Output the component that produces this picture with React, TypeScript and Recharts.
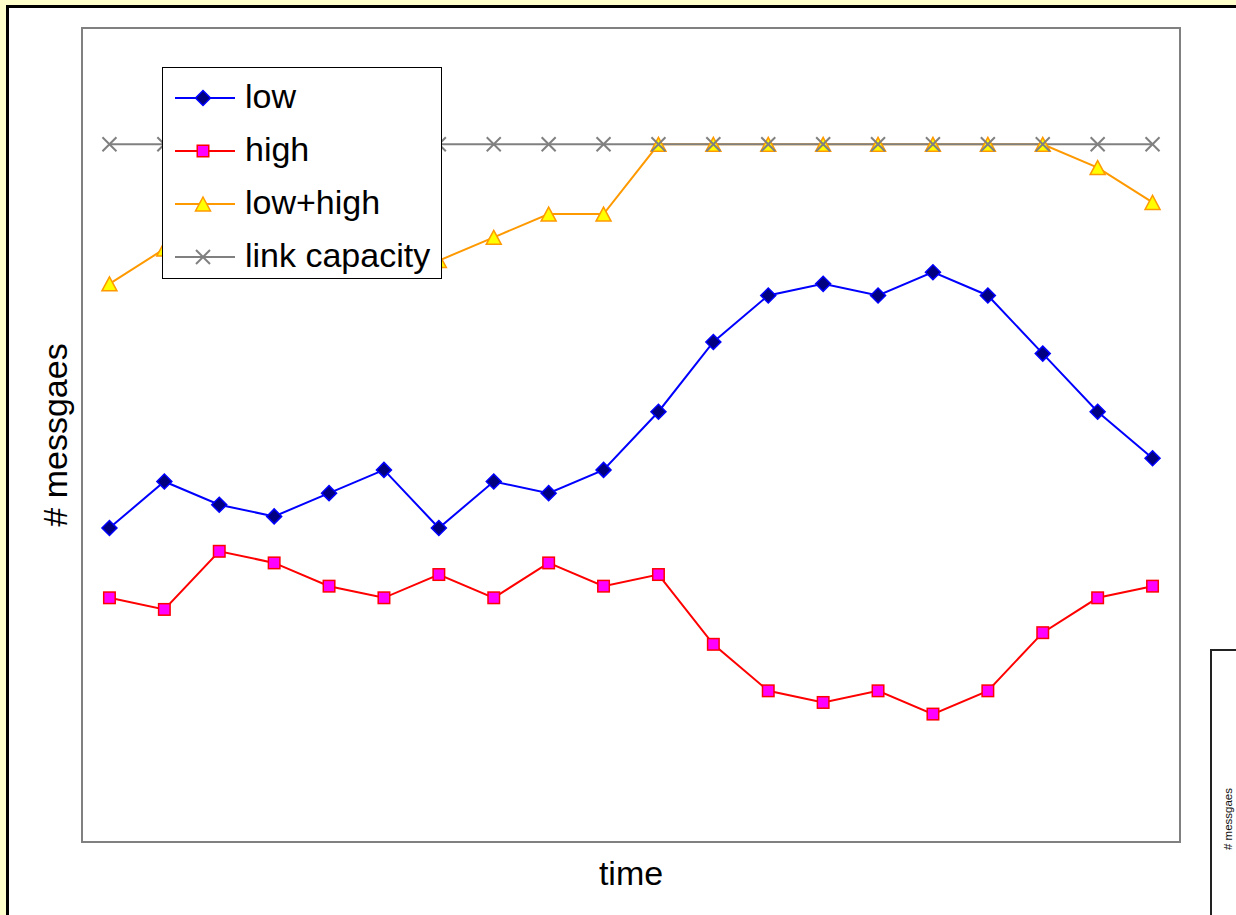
import React from 'react';
import { LineChart, Line, XAxis, YAxis, Legend, ReferenceArea } from 'recharts';

// Time slots along the x axis
const timeSlots = [1, 2, 3, 4, 5, 6, 7, 8, 9, 10, 11, 12, 13, 14, 15, 16, 17, 18, 19, 20];

// Message counts per time slot
const lowValues = [27, 31, 29, 28, 30, 32, 27, 31, 30, 32, 37, 43, 47, 48, 47, 49, 47, 42, 37, 33];
const highValues = [21, 20, 25, 24, 22, 21, 23, 21, 24, 22, 23, 17, 13, 12, 13, 11, 13, 18, 21, 22];
const lowHighValues = [48, 51, 54, 52, 52, 53, 50, 52, 54, 54, 60, 60, 60, 60, 60, 60, 60, 60, 58, 55];
const capacityValues = [60, 60, 60, 60, 60, 60, 60, 60, 60, 60, 60, 60, 60, 60, 60, 60, 60, 60, 60, 60];

const FONT = 'Arial, "Liberation Sans", sans-serif';

type Shape = 'diamond' | 'square' | 'triangle' | 'cross';

const seriesList: { key: string; name: string; stroke: string; fill: string; shape: Shape }[] = [
  { key: 'low', name: 'low', stroke: '#0000FF', fill: '#000080', shape: 'diamond' },
  { key: 'high', name: 'high', stroke: '#FF0000', fill: '#FF00FF', shape: 'square' },
  { key: 'lowHigh', name: 'low+high', stroke: '#FF9900', fill: '#FFFF00', shape: 'triangle' },
  { key: 'capacity', name: 'link capacity', stroke: '#808080', fill: 'none', shape: 'cross' },
];

const data = timeSlots.map((t, i) => ({
  t,
  low: lowValues[i],
  high: highValues[i],
  lowHigh: lowHighValues[i],
  capacity: capacityValues[i],
}));

function MarkerGlyph({ shape, cx, cy, stroke, fill }: { shape: Shape; cx: number; cy: number; stroke: string; fill: string }) {
  if (shape === 'diamond') {
    const r = 7.5;
    return (
      <polygon
        points={`${cx},${cy - r} ${cx + r},${cy} ${cx},${cy + r} ${cx - r},${cy}`}
        fill={fill}
        stroke={stroke}
        strokeWidth={1.5}
      />
    );
  }
  if (shape === 'square') {
    const h = 5.75;
    return <rect x={cx - h} y={cy - h} width={h * 2} height={h * 2} fill={fill} stroke={stroke} strokeWidth={1.5} />;
  }
  if (shape === 'triangle') {
    return (
      <polygon
        points={`${cx},${cy - 7} ${cx + 7.5},${cy + 7} ${cx - 7.5},${cy + 7}`}
        fill={fill}
        stroke={stroke}
        strokeWidth={1.5}
        strokeLinejoin="miter"
      />
    );
  }
  const r = 7;
  return (
    <g stroke={stroke} strokeWidth={2}>
      <line x1={cx - r} y1={cy - r} x2={cx + r} y2={cy + r} />
      <line x1={cx - r} y1={cy + r} x2={cx + r} y2={cy - r} />
    </g>
  );
}

const makeDot = (s: (typeof seriesList)[number]) => (props: any) => {
  const { cx, cy, index } = props;
  if (cx == null || cy == null) return <g key={`${s.key}-${index}`} />;
  return (
    <g key={`${s.key}-${index}`}>
      <MarkerGlyph shape={s.shape} cx={cx} cy={cy} stroke={s.stroke} fill={s.fill} />
    </g>
  );
};

const renderLegend = (props: any) => {
  const payload: any[] = props.payload || [];
  // keep the entries in series order
  const ordered = seriesList
    .map((s) => ({ s, entry: payload.find((p) => p.dataKey === s.key || p.value === s.name) }))
    .filter((x) => x.entry);
  return (
    <div
      style={{
        width: 280,
        height: 212,
        boxSizing: 'border-box',
        border: '1px solid #000',
        background: '#fff',
        paddingTop: 4,
      }}
    >
      {ordered.map(({ s, entry }) => (
        <div key={s.key} style={{ display: 'flex', alignItems: 'center', height: 52.8 }}>
          <svg width={62} height={20} style={{ marginLeft: 12, flex: 'none', overflow: 'visible' }}>
            <line x1={0} y1={10} x2={60} y2={10} stroke={s.stroke} strokeWidth={2} />
            <MarkerGlyph shape={s.shape} cx={28} cy={10} stroke={s.stroke} fill={s.fill} />
          </svg>
          <span
            style={{
              marginLeft: 8,
              fontSize: 34,
              lineHeight: '34px',
              fontFamily: FONT,
              color: '#000',
              position: 'relative',
              top: -2,
              whiteSpace: 'nowrap',
            }}
          >
            {entry.value}
          </span>
        </div>
      ))}
    </div>
  );
};

export default function App() {
  return (
    <div
      style={{
        position: 'absolute',
        left: 0,
        top: 0,
        width: 1236,
        height: 915,
        overflow: 'hidden',
        background: '#FFFFCC',
        fontFamily: FONT,
      }}
    >
      <div
        style={{
          position: 'absolute',
          left: 6,
          top: 5,
          width: 1240,
          height: 920,
          background: '#fff',
          borderLeft: '3px solid #000',
          borderTop: '3px solid #000',
        }}
      />
      {/* neighbouring panel peeking in at the lower right */}
      <div
        style={{
          position: 'absolute',
          left: 1210,
          top: 649,
          width: 60,
          height: 300,
          background: '#fff',
          borderLeft: '2px solid #222',
          borderTop: '2px solid #222',
        }}
      />
      <svg style={{ position: 'absolute', left: 1200, top: 640 }} width={36} height={275}>
        <text
          x={32}
          y={179}
          transform="rotate(-90, 32, 179)"
          textAnchor="middle"
          fontSize={11.5}
          fontFamily={FONT}
          fill="#111"
        >
          # messgaes
        </text>
      </svg>
      <div style={{ position: 'absolute', left: 0, top: 0 }}>
        <LineChart width={1236} height={915} data={data} margin={{ top: 28, right: 56, left: 0, bottom: 0 }}>
          <XAxis
            dataKey="t"
            type="number"
            domain={[0.5, 20.5]}
            ticks={timeSlots}
            tick={false}
            axisLine={false}
            tickLine={false}
            height={73}
            label={{ value: 'time', position: 'insideTop', offset: 19, fill: '#000', fontSize: 34, fontFamily: FONT }}
          />
          <YAxis
            type="number"
            domain={[0, 70]}
            tick={false}
            axisLine={false}
            tickLine={false}
            width={82}
            label={{
              value: '# messgaes',
              angle: -90,
              position: 'insideLeft',
              offset: 55,
              fill: '#000',
              fontSize: 34,
              fontFamily: FONT,
              style: { textAnchor: 'middle' },
            }}
          />
          <ReferenceArea x1={0.5} x2={20.5} y1={0} y2={70} fill="none" fillOpacity={0} stroke="#808080" strokeWidth={2} />
          {seriesList.map((s) => (
            <Line
              key={s.key}
              type="linear"
              dataKey={s.key}
              name={s.name}
              stroke={s.stroke}
              strokeWidth={2}
              dot={makeDot(s)}
              activeDot={false}
              isAnimationActive={false}
            />
          ))}
          <Legend
            content={renderLegend}
            layout="vertical"
            align="center"
            verticalAlign="middle"
            wrapperStyle={{ left: 162, top: 67, width: 280, height: 212 }}
          />
        </LineChart>
      </div>
    </div>
  );
}
